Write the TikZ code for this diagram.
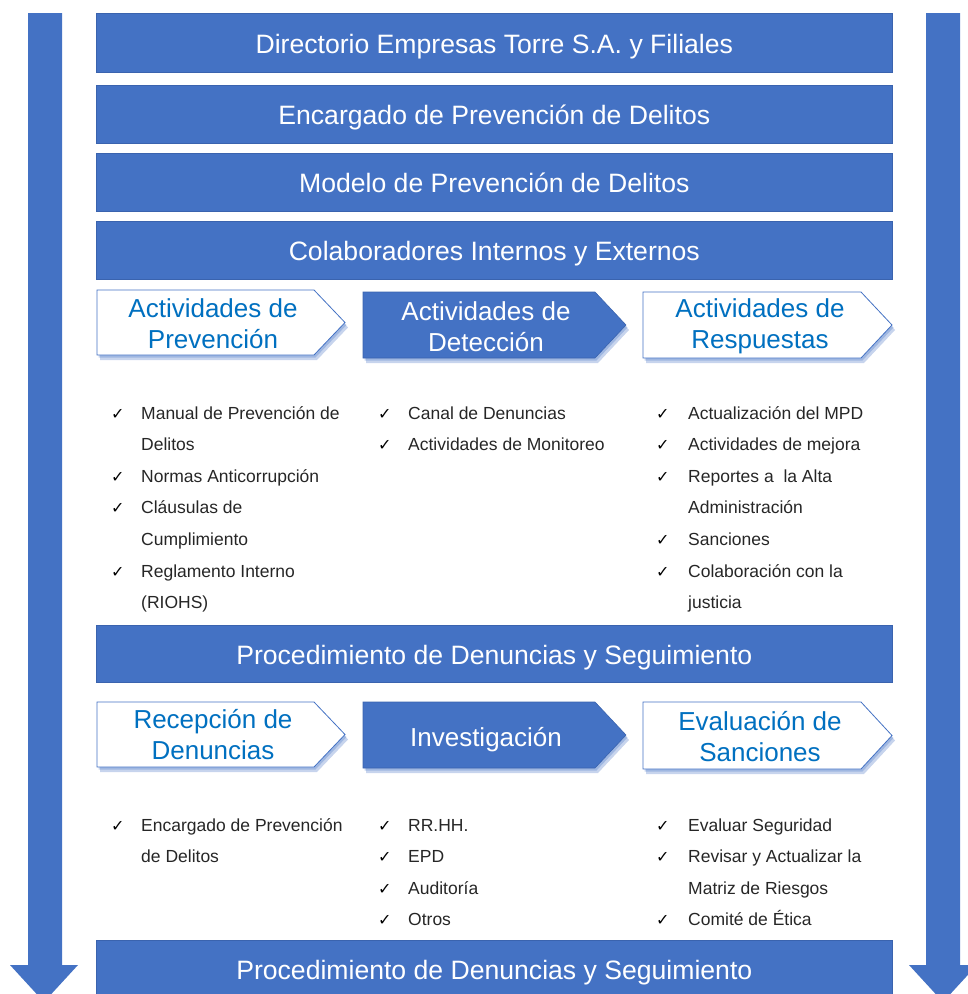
\documentclass[tikz,border=0pt]{standalone}
\usepackage{fontspec}
\setmainfont{Liberation Sans}
\newfontfamily\symfont{DejaVu Sans}
\definecolor{barblue}{HTML}{4472C4}
\definecolor{edgeblue}{HTML}{3A63AE}
\definecolor{txtblue}{HTML}{0070C0}
\definecolor{listgray}{HTML}{262626}
\newcommand\chevpath[4]{(#1,#2) -- ({#3-31},#2) -- (#3,{(#2+#4)/2}) -- ({#3-31},#4) -- (#1,#4) -- cycle}
\begin{document}
\begin{tikzpicture}[x=1pt,y=-1pt,
  bar/.style={fill=barblue,draw=edgeblue,line width=0.6pt,inner sep=0pt,anchor=north west,
    minimum width=796pt,text=white,font=\fontsize{26.6}{31}\selectfont,text height=21pt,text depth=0pt},
  chevtext/.style={font=\fontsize{26}{31}\selectfont,align=center,inner sep=0pt},
  whitechev/.style={fill=white,draw=barblue,line width=0.8pt},
  bluechev/.style={fill=barblue,draw=edgeblue,line width=0.6pt},
  chevshadow/.style={fill=barblue,opacity=0.3},
  item/.style={anchor=base west,text=listgray,font=\fontsize{17.5}{20}\selectfont,inner sep=0pt},
  tick/.style={anchor=base west,text=black,font=\symfont\fontsize{16}{18}\selectfont,inner sep=0pt},
  arrowfill/.style={fill=barblue}]
\useasboundingbox (0,0) rectangle (968,994);
\begin{scope}
\clip (0,0) rectangle (968,994);
% side arrows
\fill[arrowfill] (28,13) -- (62,13) -- (62,965) -- (78,965) -- (44,1002) -- (10,965) -- (28,965) -- cycle;
\fill[arrowfill] (926,13) -- (960,13) -- (960,965) -- (977,965) -- (943,1002) -- (909,965) -- (926,965) -- cycle;
% bars
\node[bar,minimum height=59pt] (b1) at (96,13) {Directorio Empresas Torre S.A. y Filiales};
\node[bar,minimum height=58pt] (b2) at (96,85) {Encargado de Prevención de Delitos};
\node[bar,minimum height=58pt] (b3) at (96,153) {Modelo de Prevención de Delitos};
\node[bar,minimum height=58pt] (b4) at (96,221) {Colaboradores Internos y Externos};
\node[bar,minimum height=57pt] (b5) at (96,625) {Procedimiento de Denuncias y Seguimiento};
\node[bar,minimum height=58pt] (b6) at (96,940) {Procedimiento de Denuncias y Seguimiento};
% chevron shadows
\begin{scope}[shift={(3,5)}]
\fill[chevshadow] \chevpath{97}{290}{345}{355};
\fill[chevshadow] \chevpath{363}{292}{626}{358};
\fill[chevshadow] \chevpath{643}{292}{892}{358};
\fill[chevshadow] \chevpath{97}{702}{345}{767};
\fill[chevshadow] \chevpath{363}{702}{626}{768};
\fill[chevshadow] \chevpath{643}{702}{892}{769};
\end{scope}
\begin{scope}[shift={(1.5,2.5)}]
\fill[chevshadow] \chevpath{97}{290}{345}{355};
\fill[chevshadow] \chevpath{363}{292}{626}{358};
\fill[chevshadow] \chevpath{643}{292}{892}{358};
\fill[chevshadow] \chevpath{97}{702}{345}{767};
\fill[chevshadow] \chevpath{363}{702}{626}{768};
\fill[chevshadow] \chevpath{643}{702}{892}{769};
\end{scope}
% chevrons
\draw[whitechev] \chevpath{97}{290}{345}{355};
\draw[bluechev] \chevpath{363}{292}{626}{358};
\draw[whitechev] \chevpath{643}{292}{892}{358};
\draw[whitechev] \chevpath{97}{702}{345}{767};
\draw[bluechev] \chevpath{363}{702}{626}{768};
\draw[whitechev] \chevpath{643}{702}{892}{769};
\end{scope}
% chevron texts
\node[chevtext,text=txtblue] (c1) at (213,323.5) {Actividades de\\Prevención};
\node[chevtext,text=white] (c2) at (486,326.5) {Actividades de\\Detección};
\node[chevtext,text=txtblue] (c3) at (760,326.5) {Actividades de\\Respuestas};
\node[chevtext,text=txtblue] (c4) at (213,734.5) {Recepción de\\Denuncias};
\node[chevtext,text=white] (c5) at (486,739.5) {Investigación};
\node[chevtext,text=txtblue] (c6) at (760,736.5) {Evaluación de\\Sanciones};
% lists, upper part
\node[tick] (t11) at (111,419) {✓};
\node[item] (i11) at (141,419) {Manual de Prevención de};
\node[item] (i12) at (141,450.6) {Delitos};
\node[tick] (t13) at (111,482.2) {✓};
\node[item] (i13) at (141,482.2) {Normas Anticorrupción};
\node[tick] (t14) at (111,513.8) {✓};
\node[item] (i14) at (141,513.8) {Cláusulas de};
\node[item] (i15) at (141,545.4) {Cumplimiento};
\node[tick] (t16) at (111,577) {✓};
\node[item] (i16) at (141,577) {Reglamento Interno};
\node[item] (i17) at (141,608.6) {(RIOHS)};
\node[tick] (t21) at (378,419) {✓};
\node[item] (i21) at (408,419) {Canal de Denuncias};
\node[tick] (t22) at (378,450.6) {✓};
\node[item] (i22) at (408,450.6) {Actividades de Monitoreo};
\node[tick] (t31) at (656,419) {✓};
\node[item] (i31) at (688,419) {Actualización del MPD};
\node[tick] (t32) at (656,450.6) {✓};
\node[item] (i32) at (688,450.6) {Actividades de mejora};
\node[tick] (t33) at (656,482.2) {✓};
\node[item] (i33) at (688,482.2) {Reportes a\ \ la Alta};
\node[item] (i34) at (688,513.8) {Administración};
\node[tick] (t35) at (656,545.4) {✓};
\node[item] (i35) at (688,545.4) {Sanciones};
\node[tick] (t36) at (656,577) {✓};
\node[item] (i36) at (688,577) {Colaboración con la};
\node[item] (i37) at (688,608.6) {justicia};
% lists, lower part
\node[tick] (u11) at (111,831) {✓};
\node[item] (j11) at (141,831) {Encargado de Prevención};
\node[item] (j12) at (141,862.6) {de Delitos};
\node[tick] (u21) at (378,831) {✓};
\node[item] (j21) at (408,831) {RR.HH.};
\node[tick] (u22) at (378,862.6) {✓};
\node[item] (j22) at (408,862.6) {EPD};
\node[tick] (u23) at (378,894.2) {✓};
\node[item] (j23) at (408,894.2) {Auditoría};
\node[tick] (u24) at (378,925.8) {✓};
\node[item] (j24) at (408,925.8) {Otros};
\node[tick] (u31) at (656,831) {✓};
\node[item] (j31) at (688,831) {Evaluar Seguridad};
\node[tick] (u32) at (656,862.6) {✓};
\node[item] (j32) at (688,862.6) {Revisar y Actualizar la};
\node[item] (j33) at (688,894.2) {Matriz de Riesgos};
\node[tick] (u34) at (656,925.8) {✓};
\node[item] (j34) at (688,925.8) {Comité de Ética};
\end{tikzpicture}
\end{document}
